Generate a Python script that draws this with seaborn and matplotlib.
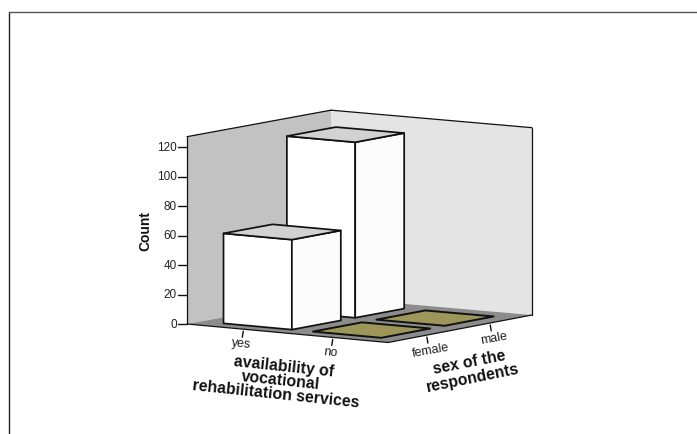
import numpy as np
import matplotlib
matplotlib.use("Agg")
import matplotlib.pyplot as plt
import seaborn as sns

# Counts per category
service_labels = ["yes", "no"]
sex_labels = ["female", "male"]
counts_female = [61, 0]
counts_male = [119, 0]
count_ticks = [0, 20, 40, 60, 80, 100, 120]

# Floor of the oblique box in figure pixels: left, front, right, back
FLOOR_L = np.array([187.0, 325.0])
FLOOR_F = np.array([388.0, 343.5])
FLOOR_R = np.array([532.0, 316.0])
FLOOR_B = np.array([331.0, 298.5])
PX_PER_COUNT = 1.475
WALL_TOP = 127.0
U_STARTS = [0.11, 0.555]
V_STARTS = [0.10, 0.54]
BAR_WIDTH = 0.34

INK = "#111111"
WALL_LEFT = "#C2C2C2"
WALL_BACK = "#E4E4E4"
FLOOR = "#8C8C8C"
BAR_TOP = "#D2D2D2"
BAR_FRONT = "#FFFFFF"
BAR_SIDE = "#FCFCFC"
EMPTY = "#9C9658"


def project(u, v, value=0.0):
    """Map floor position (u, v) in 0..1 and a count to pixel coordinates."""
    p = (FLOOR_L * (1 - u) * (1 - v) + FLOOR_F * u * (1 - v)
         + FLOOR_B * (1 - u) * v + FLOOR_R * u * v)
    return p[0], p[1] - value * PX_PER_COUNT


def face(ax, pts, color, lw=1.25, z=2):
    ax.fill(*zip(*pts), facecolor=color, edgecolor=INK, linewidth=lw,
            joinstyle="round", zorder=z)


def draw_bar(ax, u0, v0, value, z):
    u1, v1 = u0 + BAR_WIDTH, v0 + BAR_WIDTH
    if value == 0:
        face(ax, [project(u0, v0), project(u1, v0), project(u1, v1), project(u0, v1)],
             EMPTY, lw=1.4, z=z)
        return
    face(ax, [project(u0, v0), project(u1, v0), project(u1, v0, value), project(u0, v0, value)],
         BAR_FRONT, z=z)
    face(ax, [project(u1, v0), project(u1, v1), project(u1, v1, value), project(u1, v0, value)],
         BAR_SIDE, z=z)
    face(ax, [project(u0, v0, value), project(u1, v0, value), project(u1, v1, value), project(u0, v1, value)],
         BAR_TOP, z=z)


sns.set_theme(style="white")
plt.rcParams["font.family"] = ["Liberation Sans", "DejaVu Sans"]

fig = plt.figure(figsize=(6.97, 4.35), dpi=100)
ax = fig.add_axes([0, 0, 1, 1])
ax.set_xlim(0, 697)
ax.set_ylim(435, 0)
ax.axis("off")

# Page frame
ax.plot([9, 9], [13, 435], color="#222222", lw=1.0)
ax.plot([9, 697], [13, 13], color="#555555", lw=1.0)

# Walls and floor
ax.fill(*zip(project(0, 0), project(0, 1), project(0, 1, WALL_TOP), project(0, 0, WALL_TOP)),
        facecolor=WALL_LEFT, edgecolor="none", zorder=1)
ax.fill(*zip(project(0, 1), project(1, 1), project(1, 1, WALL_TOP), project(0, 1, WALL_TOP)),
        facecolor=WALL_BACK, edgecolor="none", zorder=1)
ax.fill(*zip(project(0, 0), project(1, 0), project(1, 1), project(0, 1)),
        facecolor=FLOOR, edgecolor="none", zorder=1)

# Box outline
for a, b in [((0, 0, 0), (0, 0, WALL_TOP)), ((0, 0, WALL_TOP), (0, 1, WALL_TOP)),
             ((0, 1, WALL_TOP), (1, 1, WALL_TOP)), ((1, 1, WALL_TOP), (1, 1, 0)),
             ((0, 0, 0), (1, 0, 0)), ((1, 0, 0), (1, 1, 0))]:
    ax.plot(*zip(project(*a), project(*b)), color=INK, lw=0.9, zorder=1.5)

# Bars, back to front
draw_bar(ax, U_STARTS[1], V_STARTS[1], counts_male[1], 2)
draw_bar(ax, U_STARTS[1], V_STARTS[0], counts_female[1], 2.1)
draw_bar(ax, U_STARTS[0], V_STARTS[1], counts_male[0], 2.2)
draw_bar(ax, U_STARTS[0], V_STARTS[0], counts_female[0], 2.3)

# Count axis
for t in count_ticks:
    x, y = project(0, 0, t)
    ax.plot([x - 9, x], [y, y], color=INK, lw=1.0)
    ax.text(x - 10, y, str(t), ha="right", va="center", fontsize=8.5, color="#222222")
ax.text(145, 231, "Count", rotation=90, ha="center", va="center",
        fontsize=10, fontweight="bold", color="#111111")

# Category ticks along the two floor edges
for i, lab in enumerate(service_labels):
    x, y = project(U_STARTS[i] + BAR_WIDTH / 2, 0)
    ax.plot([x, x - 1], [y + 2, y + 8], color=INK, lw=1.0)
    ax.text(x - 2, y + 14, lab, rotation=-6, ha="center", va="center", fontsize=9, color="#222222")
for i, lab in enumerate(sex_labels):
    x, y = project(1, V_STARTS[i] + BAR_WIDTH / 2)
    ax.plot([x, x + 1], [y + 2, y + 8], color=INK, lw=1.0)
    ax.text(x + 4, y + 15, lab, rotation=10, ha="center", va="center", fontsize=9, color="#222222")

# Floor axis titles
for (cx, cy, rot, txt) in [(284, 367, -6, "availability of"),
                           (281, 380.5, -6, "vocational"),
                           (276, 394, -6, "rehabilitation services")]:
    ax.text(cx, cy, txt, rotation=rot, ha="center", va="center",
            fontsize=11.4, fontweight="bold", color="#111111")
ax.text(469, 363, "sex of the", rotation=11, ha="center", va="center",
        fontsize=11.3, fontweight="bold", color="#111111")
ax.text(473, 378, "respondents", rotation=11.5, ha="center", va="center",
        fontsize=11.3, fontweight="bold", color="#111111")

fig.savefig("out.png", dpi=100)
